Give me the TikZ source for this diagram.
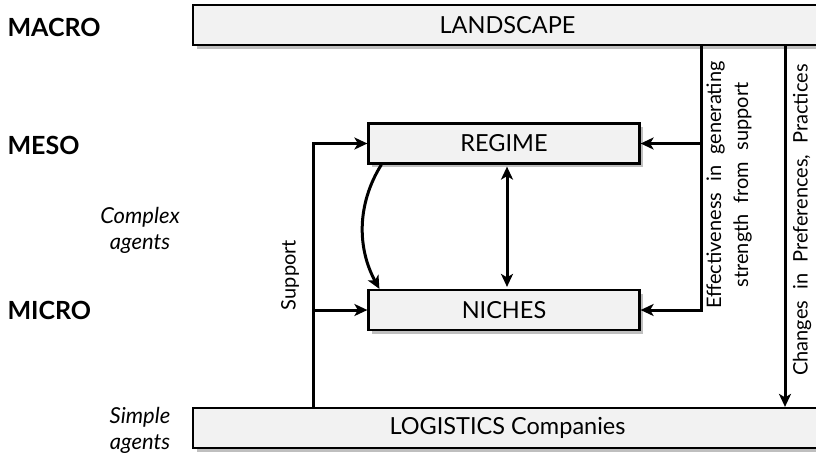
\documentclass[tikz,border=0pt]{standalone}
\usepackage{fontspec}
\setmainfont{Lato}
\usetikzlibrary{arrows.meta,shadows}
\newcommand{\wsp}{\hspace{11pt}}
\begin{document}
\begin{tikzpicture}[x=1pt,y=-1pt,
  box/.style={draw=black, line width=2.2pt, fill=black!5,
    drop shadow={shadow xshift=3.5pt, shadow yshift=-3.5pt, fill=black!25, opacity=1},
    minimum height=40pt, inner sep=0pt, font=\fontsize{23.5}{28}\selectfont},
  tip/.tip={Stealth[length=13pt,width=12pt,inset=3.5pt]},
  conn/.style={line width=3pt, -tip},
  lvl/.style={anchor=west, font=\fontsize{25}{30}\selectfont\bfseries},
  agt/.style={align=center, font=\fontsize{22}{26}\selectfont\itshape},
  lab/.style={rotate=90, align=center, font=\fontsize{20}{27}\selectfont}]
\useasboundingbox (0,0) rectangle (816,456);
\clip (0,0) rectangle (816,456);
% boxes
\node[box, minimum width=629pt] (land) at (507.5,25) {LANDSCAPE};
\node[box, minimum width=629pt] (log) at (507.5,428) {LOGISTICS Companies};
\node[box, minimum width=271pt] (reg) at (504,143.5) {REGIME};
\node[box, minimum width=271pt] (nic) at (504,310) {NICHES};
% level labels
\node[lvl] (macro) at (4,27) {MACRO};
\node[lvl] (meso) at (4,145) {MESO};
\node[lvl] (micro) at (4,310) {MICRO};
\node[agt] (cplx) at (140,230) {Complex\\agents};
\node[agt] (simp) at (140,430) {Simple\\agents};
% coordinates
\coordinate (sx) at (313,0);
\coordinate (ex) at (701,0);
\coordinate (cx) at (785,0);
\coordinate (dx) at (507,0);
% support
\draw[conn] (log.north -| sx) |- (reg.west);
\draw[conn] (sx |- nic.west) -- (nic.west);
\node[lab] (sup) at (290,275) {Support};
% effectiveness
\draw[conn] (land.south -| ex) |- (nic.east);
\draw[conn] (ex |- reg.east) -- (reg.east);
\node[lab] (eff) at (729,185) {Effectiveness\wsp in\wsp generating\\strength\wsp from\wsp support};
% changes
\draw[conn] (land.south -| cx) -- (log.north -| cx);
\node[lab] (chg) at (802,220) {Changes\wsp in\wsp Preferences,\wsp Practices};
% regime-niches
\draw[conn] ([xshift=14pt]reg.south west) .. controls +(-25,40) and +(-22,-40) .. ([xshift=12pt]nic.north west);
\draw[conn, tip-tip, shorten <=2pt, shorten >=2pt] (reg.south -| dx) -- (nic.north -| dx);
\end{tikzpicture}
\end{document}
